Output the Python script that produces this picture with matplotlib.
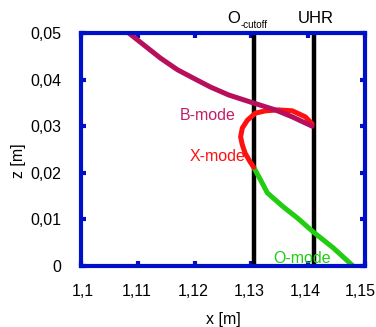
import matplotlib
matplotlib.use("Agg")
import matplotlib.pyplot as plt
from matplotlib.transforms import ScaledTranslation

plt.rcParams['font.family'] = ['Liberation Sans', 'DejaVu Sans']

# B-mode trajectory
b_x = [1.1084, 1.1111, 1.1140, 1.1170, 1.1198, 1.1228, 1.1260, 1.1298, 1.1342, 1.1372, 1.1407]
b_z = [0.0500, 0.0474, 0.0446, 0.0421, 0.0403, 0.0384, 0.0367, 0.0352, 0.0335, 0.0320, 0.0300]
# X-mode trajectory
x_x = [1.1407, 1.1395, 1.1372, 1.1347, 1.1325, 1.1307, 1.1293, 1.1284, 1.1281, 1.1284, 1.1289, 1.1298, 1.1304]
x_z = [0.0305, 0.0320, 0.0333, 0.0335, 0.0333, 0.0328, 0.0313, 0.0296, 0.0277, 0.0260, 0.0242, 0.0223, 0.0212]
# O-mode trajectory
o_x = [1.1304, 1.1316, 1.1328, 1.1356, 1.1381, 1.1409, 1.1444, 1.1479]
o_z = [0.0212, 0.0185, 0.0157, 0.0127, 0.0103, 0.0073, 0.0039, 0.0000]
# vertical markers
o_cutoff_x = 1.1304
uhr_x = 1.1411

xticks = [1.10, 1.11, 1.12, 1.13, 1.14, 1.15]
xticklabels = ['1,1', '1,11', '1,12', '1,13', '1,14', '1,15']
yticks = [0.0, 0.01, 0.02, 0.03, 0.04, 0.05]
yticklabels = ['0', '0,01', '0,02', '0,03', '0,04', '0,05']

fig = plt.figure(figsize=(3.76, 3.27), dpi=100)
ax = fig.add_axes([81/376, 1-266/327, 284/376, 233/327])

purple = '#b80f5c'
red = '#ff1010'
green = '#22cc10'
blue = '#0010c8'
fs = 11.5

ax.axvline(o_cutoff_x, color='black', lw=3.2, zorder=2)
ax.axvline(uhr_x, color='black', lw=3.2, zorder=2)
ax.plot(o_x, o_z, color=green, lw=3.6, solid_capstyle='butt', solid_joinstyle='round', zorder=3)
ax.plot(x_x, x_z, color=red, lw=3.6, solid_capstyle='round', solid_joinstyle='round', zorder=3)
ax.plot(b_x, b_z, color=purple, lw=3.6, solid_capstyle='round', solid_joinstyle='round', zorder=4)

ax.set_xlim(1.10, 1.15)
ax.set_ylim(0, 0.05)
ax.set_xticks(xticks)
ax.set_xticklabels(xticklabels)
ax.set_yticks(yticks)
ax.set_yticklabels(yticklabels)
ax.tick_params(direction='in', length=3.5, width=3, color=blue, labelsize=fs,
               top=True, right=True)
ax.tick_params(axis='x', pad=13)
ax.tick_params(axis='y', pad=14)
for s in ax.spines.values():
    s.set_color(blue)
    s.set_linewidth(3)
    s.set_zorder(5)

# small horizontal shifts of the x tick labels (pixels at 100 dpi)
label_shifts = [2, -1, -1, -2, -3, -5]
for lab, dx in zip(ax.get_xticklabels(), label_shifts):
    lab.set_transform(lab.get_transform() + ScaledTranslation(dx / 100, 0, fig.dpi_scale_trans))

ax.set_xlabel('x [m]', fontsize=fs, labelpad=9)
ax.set_ylabel('z [m]', fontsize=fs)
ax.yaxis.set_label_coords(-0.195, 0.45)

ax.text(1.1223, 0.0324, 'B-mode', color='#c0206a', fontsize=fs, ha='center', va='center')
ax.text(1.1240, 0.0234, 'X-mode', color=red, fontsize=fs, ha='center', va='center')
ax.text(1.1390, 0.0016, 'O-mode', color=green, fontsize=fs, ha='center', va='center')

ax.text(1.1280, 0.0515, 'O', fontsize=fs + 0.5, ha='right', va='bottom', clip_on=False)
ax.text(1.1281, 0.05055, '-cutoff', fontsize=7, ha='left', va='bottom', clip_on=False)
ax.text(uhr_x + 0.0002, 0.0515, 'UHR', fontsize=fs + 0.5, ha='center', va='bottom', clip_on=False)

fig.savefig('out.png', dpi=100)
